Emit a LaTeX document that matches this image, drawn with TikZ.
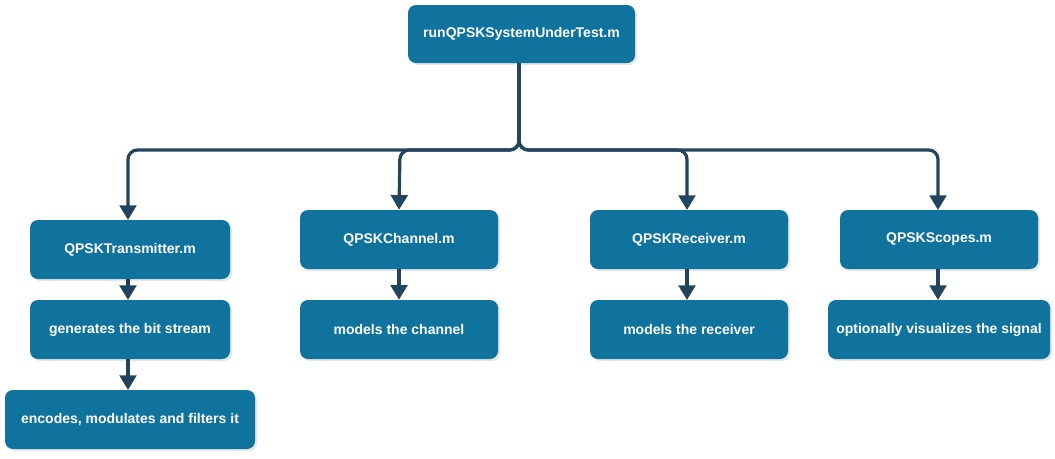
\documentclass[tikz,border=0pt]{standalone}
\usepackage{fontspec}
\setmainfont{Liberation Sans}
\usetikzlibrary{arrows.meta,shadows}
\definecolor{boxfill}{HTML}{10739E}
\definecolor{linec}{HTML}{23445D}
\begin{document}
\begin{tikzpicture}[x=0.75pt,y=-0.75pt,
  box/.style={fill=boxfill,draw=none,rounded corners=6pt,text=white,font=\bfseries\fontsize{10.5pt}{12pt}\selectfont,
    drop shadow={opacity=0.2,shadow xshift=1.5pt,shadow yshift=-1.5pt}},
  conn/.style={draw=linec,line width=2.4pt,rounded corners=7pt,-{Triangle[length=11pt,width=12.5pt]}}]
\useasboundingbox (0,0) rectangle (1055,458);
\newcommand{\bx}[6]{\node[box,minimum width={(#4-#2)*0.75pt},minimum height={(#5-#3)*0.75pt}] (#1) at ({(#2+#4)/2},{(#3+#5)/2}) {#6};}
\bx{top}{408}{5}{635}{63}{runQPSKSystemUnderTest.m}
\bx{tx}{30}{220}{230}{279}{QPSKTransmitter.m}
\bx{gen}{30}{300}{230}{359}{generates the bit stream}
\bx{enc}{5}{390}{255}{449}{encodes, modulates and filters it}
\bx{ch}{300}{210}{498}{269}{QPSKChannel.m}
\bx{chm}{300}{300}{498}{359}{models the channel}
\bx{rx}{590}{210}{788}{269}{QPSKReceiver.m}
\bx{rxm}{590}{300}{788}{359}{models the receiver}
\bx{sc}{840}{210}{1038}{269}{QPSKScopes.m}
\bx{scm}{828}{300}{1050}{359}{optionally visualizes the signal}
\coordinate (t) at (519,63);
\draw[conn] (t) -- (519,150) -- (128,150) -- (128,220);
\draw[conn] (t) -- (519,150) -- (400,150) -- (ch.north);
\draw[conn] (t) -- (519,150) -- (687,150) -- (687,210);
\draw[conn] (t) -- (519,150) -- (938,150) -- (938,210);
\draw[conn] (128,279) -- (128,300);
\draw[conn] (128,359) -- (128,390);
\draw[conn] (ch.south) -- (chm.north);
\draw[conn] (687,269) -- (687,300);
\draw[conn] (938,269) -- (938,300);
\end{tikzpicture}
\end{document}
